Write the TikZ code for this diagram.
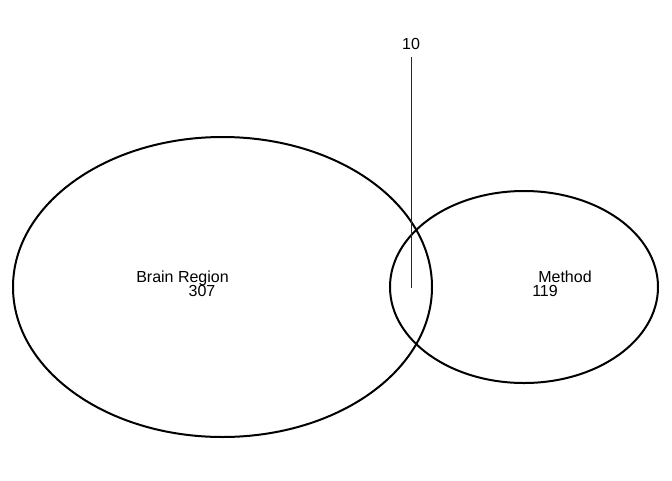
\documentclass[tikz,border=0pt]{standalone}
\usepackage{fontspec}
\setmainfont{Liberation Sans}
\usetikzlibrary{shapes.geometric}
\begin{document}
\begin{tikzpicture}[x=1pt,y=-1pt,
  setring/.style={draw=black,line width=2pt,ellipse,inner sep=0pt},
  setlabel/.style={inner sep=0pt,anchor=base,font=\fontsize{16}{16}\selectfont},
  leader/.style={draw=black!85,line width=1pt}]
  \useasboundingbox (0,0) rectangle (672,480);
  % the two sets
  \node[setring,minimum width=419pt,minimum height=300pt] (brain) at (222.5,287) {};
  \node[setring,minimum width=268pt,minimum height=192pt] (method) at (524,287) {};
  % set names and counts
  \node[setlabel] (brainname) at (182.5,282) {Brain Region};
  \node[setlabel] (braincount) at (202,296) {307};
  \node[setlabel] (methodname) at (565,282) {Method};
  \node[setlabel] (methodcount) at (545,296) {119};
  % overlap count with its leader line
  \node[setlabel] (overlap) at (411,49) {10};
  \coordinate (leadtop) at (411,57);
  \coordinate (leadend) at (411,288);
  \draw[leader] (leadtop) -- (leadend);
\end{tikzpicture}
\end{document}
